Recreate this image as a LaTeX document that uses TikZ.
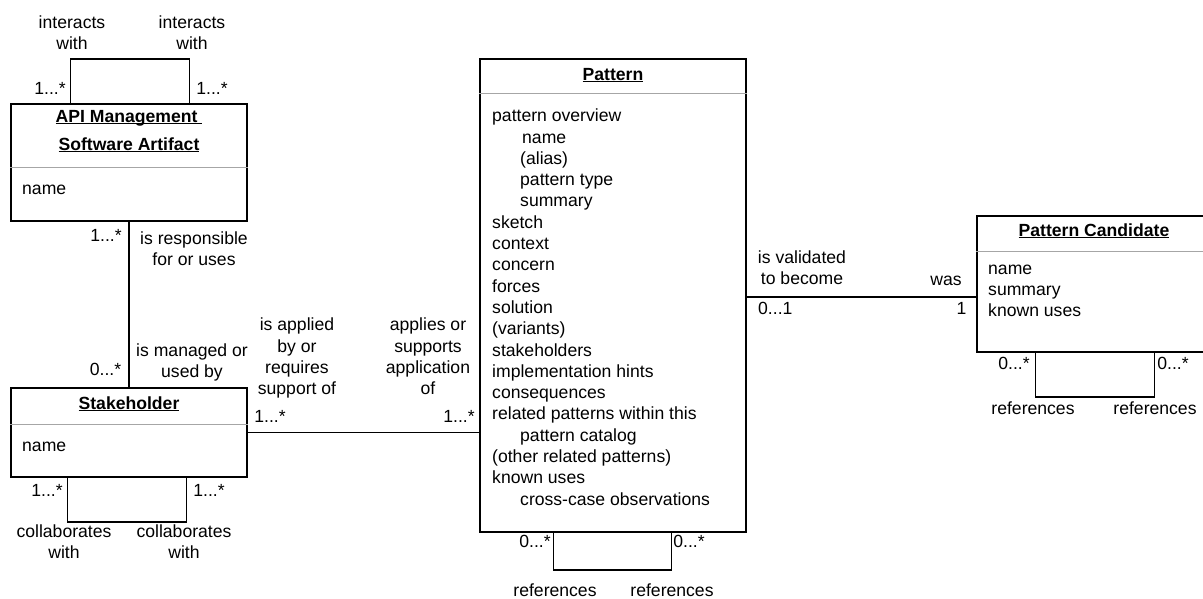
\documentclass[tikz,border=0pt]{standalone}
\usepackage{fontspec}
\setmainfont{Liberation Sans}
\newcommand\titletext[1]{\underline{\smash{\textbf{#1}}}}
\begin{document}
\begin{tikzpicture}[x=1pt,y=-1pt,
  every node/.style={font=\fontsize{17.6}{21.3}\selectfont, inner sep=0pt},
  cls/.style={draw=black, line width=1.5pt, rectangle, minimum width=#1},
  conn/.style={draw=black, line width=1.5pt},
  sep/.style={draw=black!35, line width=1.3pt},
  lbl/.style={align=center},
  lst/.style={align=left, anchor=north west}]
\useasboundingbox (0,0) rectangle (1203,599);

% class boxes
\node[cls=236pt, minimum height=117pt] (api) at (129,162.5) {};
\node[cls=236pt, minimum height=89pt] (stake) at (129,432.5) {};
\node[cls=266pt, minimum height=473pt] (pattern) at (613,295.5) {};
\node[cls=234pt, minimum height=136pt] (cand) at (1094,284) {};

% compartment separators
\draw[sep] ([yshift=-64pt]api.north west) -- ([yshift=-64pt]api.north east);
\draw[sep] ([yshift=-37pt]stake.north west) -- ([yshift=-37pt]stake.north east);
\draw[sep] ([yshift=-35pt]pattern.north west) -- ([yshift=-35pt]pattern.north east);
\draw[sep] ([yshift=-36pt]cand.north west) -- ([yshift=-36pt]cand.north east);

% class titles and attributes
\node (apiT1) at (129,118) {\strut\titletext{API Management\ }};
\node (apiT2) at (129,146) {\strut\titletext{Software Artifact}};
\node[anchor=west] (apiA) at (22,190) {\strut name};
\node (stakeT) at (129,405) {\strut\titletext{Stakeholder}};
\node[anchor=west] (stakeA) at (22,447) {\strut name};
\node (patT) at (613,76) {\strut\titletext{Pattern}};
\node[lst] (patA) at (492,106.6) {%
\strut pattern overview\\
\strut\hspace*{30pt}name\\
\strut\hspace*{28pt}(alias)\\
\strut\hspace*{28pt}pattern type\\
\strut\hspace*{28pt}summary\\
\strut sketch\\
\strut context\\
\strut concern\\
\strut forces\\
\strut solution\\
\strut (variants)\\
\strut stakeholders\\
\strut implementation hints\\
\strut consequences\\
\strut related patterns within this\\
\strut\hspace*{28pt}pattern catalog\\
\strut (other related patterns)\\
\strut known uses\\
\strut\hspace*{28pt}cross-case observations};
\node (candT) at (1094,232) {\strut\titletext{Pattern Candidate}};
\node[lst] (candA) at (988,259.2) {%
\strut name\\
\strut summary\\
\strut known uses};

% associations between classes
\draw[conn] (api.south) -- (stake.north);
\draw[conn] (stake.east) -- (stake.east -| pattern.west);
\coordinate (candL) at ([yshift=-13pt]cand.west);
\draw[conn] (candL -| pattern.east) -- (candL);

% reflexive associations
\draw[conn] ([xshift=60pt]api.north west) -- ++(0,-44) -| ([xshift=179pt]api.north west);
\draw[conn] ([xshift=57pt]stake.south west) -- ++(0,44) -| ([xshift=176pt]stake.south west);
\draw[conn] ([xshift=74pt]pattern.south west) -- ++(0,37) -| ([xshift=192pt]pattern.south west);
\draw[conn] ([xshift=59pt]cand.south west) -- ++(0,44) -| ([xshift=178pt]cand.south west);

% role names and multiplicities
\node[lbl] (r1) at (72,34.5) {\strut interacts\\\strut with};
\node[lbl] (r2) at (192,34.5) {\strut interacts\\\strut with};
\node (m1) at (50,90) {\strut 1...*};
\node (m2) at (212,90) {\strut 1...*};

\node (m3) at (106,237) {\strut 1...*};
\node[lbl] (r3) at (194,250.5) {\strut is responsible\\\strut for or uses};
\node (m4) at (105.5,371.7) {\strut 0...*};
\node[lbl] (r4) at (192,363) {\strut is managed or\\\strut used by};

\node (m5) at (47,492) {\strut 1...*};
\node (m6) at (209,492) {\strut 1...*};
\node[lbl] (r5) at (64,544) {\strut collaborates\\\strut with};
\node[lbl] (r6) at (184,544) {\strut collaborates\\\strut with};

\node[lbl] (r7) at (297,358.5) {\strut is applied\\\strut by or\\\strut requires\\\strut support of};
\node[lbl] (r8) at (428,358.5) {\strut applies or\\\strut supports\\\strut application\\\strut of};
\node (m7) at (270,418) {\strut 1...*};
\node (m8) at (459,418) {\strut 1...*};

\node (m9) at (535,543) {\strut 0...*};
\node (m10) at (689,543) {\strut 0...*};
\node (r9) at (555,592) {\strut references};
\node (r10) at (672,592) {\strut references};

\node[lbl] (r11) at (802,270) {\strut is validated\\\strut to become};
\node (r12) at (946,281) {\strut was};
\node[anchor=west] (m11) at (758,310) {\strut 0...1};
\node (m12) at (961.5,310) {\strut 1};

\node (m13) at (1014,365) {\strut 0...*};
\node (m14) at (1173,365) {\strut 0...*};
\node (r13) at (1033,410) {\strut references};
\node (r14) at (1155,410) {\strut references};
\end{tikzpicture}
\end{document}
